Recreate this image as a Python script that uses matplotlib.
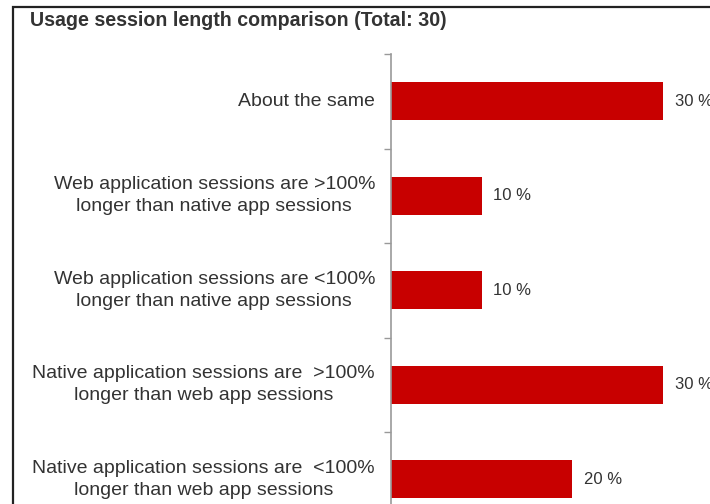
import matplotlib
matplotlib.use("Agg")
import matplotlib.pyplot as plt
from matplotlib.patches import Rectangle

# ── dati ──────────────────────────────────────────────────────────────────────
TITLE = "Usage session length comparison (Total: 30)"
categories = [
    "About the same",
    "Web application sessions are >100%\nlonger than native app sessions",
    "Web application sessions are <100%\nlonger than native app sessions",
    "Native application sessions are  >100%\nlonger than web app sessions",
    "Native application sessions are  <100%\nlonger than web app sessions",
]
values = [30, 10, 10, 30, 20]
value_labels = ["30 %", "10 %", "10 %", "30 %", "20 %"]

BAR_COLOR = "#c80000"
TEXT_COLOR = "#333333"

W, H = 710, 504
fig = plt.figure(figsize=(W / 100, H / 100), dpi=100)
plt.rcParams["font.family"] = ["Liberation Sans", "DejaVu Sans"]

# cornice esterna (tagliata a destra e in basso, come nell'originale)
fig.patches.append(Rectangle((13 / W, -0.2), 1.2, 1 - 7 / H + 0.2,
                             transform=fig.transFigure, fill=False,
                             ec="#222222", lw=1.6))

fig.text(30 / W, 1 - 20 / H, TITLE, fontsize=14.1, fontweight="bold",
         color="#333333", va="center", ha="left")

# assi: top a y=54px, 5 righe da ~94.5px
ax_left, ax_top = 391 / W, 1 - 54 / H
row_h = 94.5 / H
ax_h = 5 * row_h
ax_w = 319 / W
ax = fig.add_axes([ax_left, ax_top - ax_h, ax_w, ax_h])

y = range(len(categories))
ax.barh(y, values, height=0.4, color=BAR_COLOR)
ax.set_ylim(4.5, -0.5)
ax.set_xlim(0, 30 * 319 / 272)

for yi, v, lab in zip(y, values, value_labels):
    ax.text(v + 1.3, yi, lab, va="center", ha="left", fontsize=12,
            color=TEXT_COLOR, clip_on=False)

# etichette categorie: allineate a destra, righe centrate tra loro
for yi, cat in zip(y, categories):
    ax.annotate(cat, xy=(0, yi), xycoords=("axes fraction", "data"),
                xytext=(-16, 0), textcoords="offset pixels",
                ha="right", va="center", multialignment="center",
                fontsize=14, color=TEXT_COLOR, linespacing=1.35)

ax.set_yticks([i - 0.5 for i in range(6)])
ax.set_yticklabels([])
ax.tick_params(axis="y", which="major", length=5, color="#999999", width=1)
ax.set_xticks([])
for s in ["top", "right", "bottom"]:
    ax.spines[s].set_visible(False)
ax.spines["left"].set_color("#999999")
ax.spines["left"].set_linewidth(1.2)

fig.savefig("out.png", dpi=100)
